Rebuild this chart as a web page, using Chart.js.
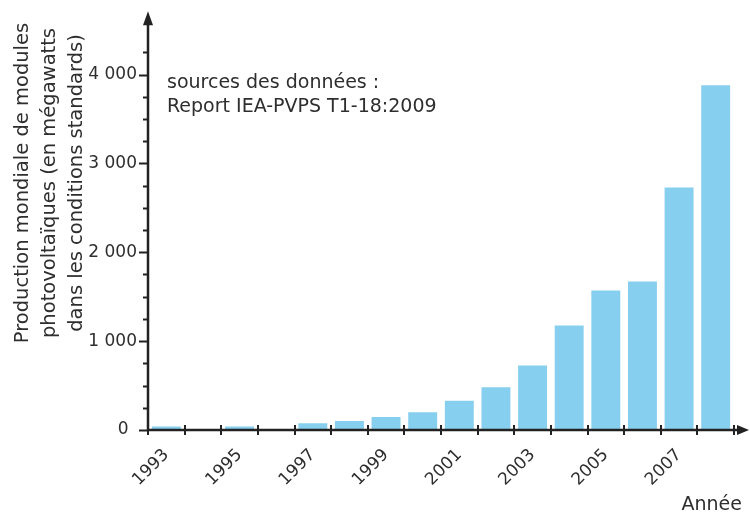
<!DOCTYPE html>
<html>
<head>
<meta charset="utf-8">
<script src="https://cdn.jsdelivr.net/npm/chart.js@4/dist/chart.umd.min.js"></script>
<style>
  html, body { margin: 0; padding: 0; background: #fff; }
  #wrap { width: 750px; height: 515px; position: relative; }
</style>
</head>
<body>
<div id="wrap"><canvas id="pv-chart"></canvas></div>
<script>
// Data (MW)
const years = ['1993', '1994', '1995', '1996', '1997', '1998', '1999', '2000',
               '2001', '2002', '2003', '2004', '2005', '2006', '2007', '2008'];
const production = [40, null, 40, null, 75, 100, 145, 200,
                    330, 480, 725, 1175, 1570, 1670, 2730, 3880];
const labelledYears = ['1993', '1995', '1997', '1999', '2001', '2003', '2005', '2007'];
const yTitleLines = ['Production mondiale de modules',
                     'photovoltaïques (en mégawatts',
                     'dans les conditions standards)'];
const sourceLines = ['sources des données :', 'Report IEA-PVPS T1-18:2009'];
const xAxisTitle = 'Année';

const FONT = '"DejaVu Sans", sans-serif';
const INK = '#222';
const TEXT = '#2e2e2e';

// Axes with arrows, ticks and the extra texts
const axesPlugin = {
    id: 'axesPlugin',
    afterDraw: function(chart) {
        const ctx = chart.ctx;
        const area = chart.chartArea;
        const yScale = chart.scales.y;
        const n = years.length;
        const step = (area.right - area.left) / n;

        ctx.save();
        ctx.strokeStyle = INK;
        ctx.fillStyle = INK;

        // y axis line + arrow
        ctx.lineWidth = 2.5;
        ctx.beginPath();
        ctx.moveTo(area.left, area.bottom + 1);
        ctx.lineTo(area.left, area.top - 2);
        ctx.stroke();
        ctx.beginPath();
        ctx.moveTo(area.left, area.top - 10);
        ctx.lineTo(area.left - 5, area.top + 4);
        ctx.lineTo(area.left + 5, area.top + 4);
        ctx.closePath();
        ctx.fill();

        // x axis line + arrow
        ctx.beginPath();
        ctx.moveTo(area.left, area.bottom);
        ctx.lineTo(area.right + 8, area.bottom);
        ctx.stroke();
        ctx.beginPath();
        ctx.moveTo(area.right + 15, area.bottom);
        ctx.lineTo(area.right + 3, area.bottom - 5);
        ctx.lineTo(area.right + 3, area.bottom + 5);
        ctx.closePath();
        ctx.fill();

        // y ticks: long every 1000, short every 250
        ctx.lineWidth = 2;
        yScale.ticks.forEach(function(t) {
            if (t.value % 250 !== 0) return;
            const y = Math.round(yScale.getPixelForValue(t.value)) + 0.5;
            const len = t.value % 1000 === 0 ? 9 : 5;
            ctx.beginPath();
            ctx.moveTo(area.left - len, y);
            ctx.lineTo(area.left, y);
            ctx.stroke();
        });

        // x ticks at category boundaries
        for (let i = 0; i <= n; i++) {
            const x = Math.round(area.left + i * step);
            ctx.beginPath();
            ctx.moveTo(x, area.bottom - 5);
            ctx.lineTo(x, area.bottom + 5);
            ctx.stroke();
        }

        // y axis title (rotated, three lines)
        ctx.fillStyle = TEXT;
        ctx.font = '19.5px ' + FONT;
        ctx.textAlign = 'center';
        ctx.textBaseline = 'middle';
        ctx.save();
        ctx.translate(23, 183);
        ctx.rotate(-Math.PI / 2);
        yTitleLines.forEach(function(line, i) {
            ctx.fillText(line, 0, i * 27);
        });
        ctx.restore();

        // source note
        ctx.font = '19px ' + FONT;
        ctx.textAlign = 'left';
        ctx.textBaseline = 'alphabetic';
        ctx.fillText(sourceLines[0], 167, 88);
        ctx.fillText(sourceLines[1], 167, 112);

        // x axis title
        ctx.textAlign = 'right';
        ctx.fillText(xAxisTitle, 742, 510);

        ctx.restore();
    }
};

new Chart(document.getElementById('pv-chart'), {
    type: 'bar',
    data: {
        labels: years,
        datasets: [{
            data: production,
            backgroundColor: '#86cfee',
            borderWidth: 0,
            barPercentage: 0.79,
            categoryPercentage: 1.0
        }]
    },
    options: {
        responsive: true,
        maintainAspectRatio: false,
        animation: false,
        layout: {
            padding: { left: 0, right: 16, top: 18, bottom: 0 }
        },
        plugins: {
            legend: { display: false },
            tooltip: { enabled: false }
        },
        scales: {
            x: {
                grid: { display: false, drawTicks: false },
                border: { display: false },
                afterFit: function(scale) { scale.height = 85; },
                ticks: {
                    autoSkip: false,
                    maxRotation: 45,
                    minRotation: 45,
                    padding: 15,
                    color: TEXT,
                    font: { family: FONT, size: 17 },
                    callback: function(value) {
                        const label = years[value];
                        return labelledYears.indexOf(label) >= 0 ? label : '';
                    }
                }
            },
            y: {
                min: 0,
                max: 4600,
                grid: { display: false, drawTicks: false },
                border: { display: false },
                afterFit: function(scale) { scale.width = 148; },
                ticks: {
                    stepSize: 250,
                    autoSkip: false,
                    padding: 11,
                    color: TEXT,
                    font: { family: FONT, size: 17 },
                    callback: function(value) {
                        if (value % 1000 !== 0) return '';
                        return value === 0 ? '0\u2002' : (value / 1000) + ' 000';
                    }
                }
            }
        }
    },
    plugins: [axesPlugin]
});
</script>
</body>
</html>
